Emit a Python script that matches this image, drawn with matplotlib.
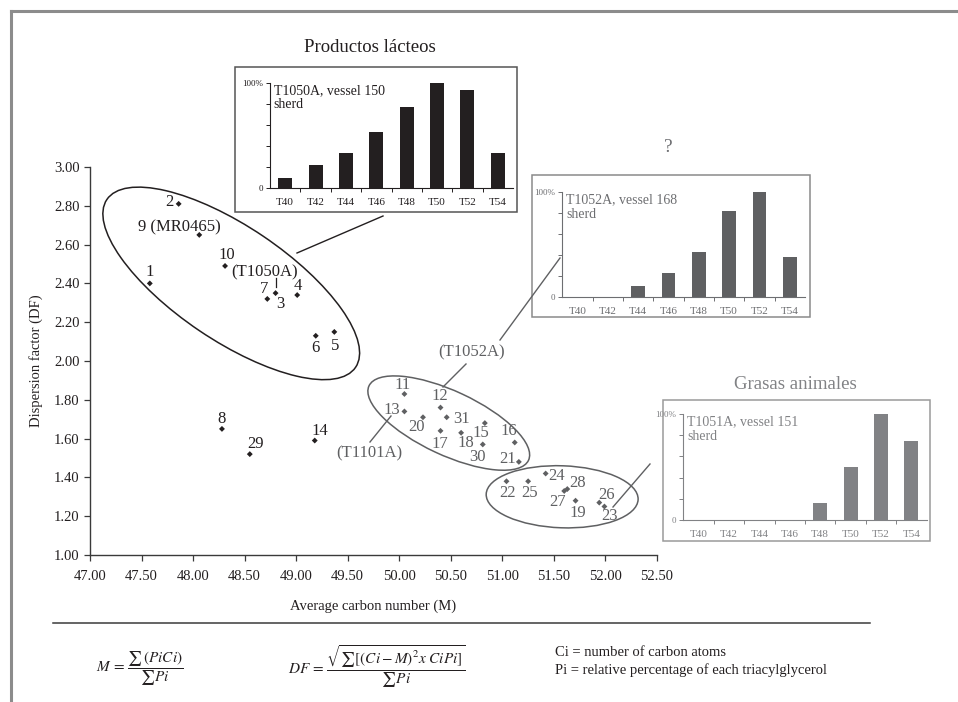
import matplotlib
matplotlib.use("Agg")
import matplotlib.pyplot as plt
from matplotlib.patches import Ellipse, Rectangle
from matplotlib.lines import Line2D
from matplotlib.transforms import ScaledTranslation

plt.rcParams['font.family'] = ['Liberation Serif', 'DejaVu Serif']
plt.rcParams['mathtext.fontset'] = 'stix'

# ---- sample values: average carbon number (M) and dispersion factor (DF)
sample_ids = ['1', '2', '9', '10', '3', '7', '4', '6', '5', '8', '29', '14',
              '11', '12', '13', '20', '31', '17', '18', '15', '16', '30', '21',
              '24', '22', '25', '28', '27', '19', '26', '23']
avg_carbon = [47.58, 47.86, 48.06, 48.31, 48.80, 48.72, 49.01, 49.19, 49.37, 48.28, 48.55, 49.18,
              50.05, 50.40, 50.05, 50.23, 50.46, 50.40, 50.60, 50.83, 51.12, 50.81, 51.16,
              51.42, 51.04, 51.25, 51.63, 51.60, 51.71, 51.94, 51.99]
dispersion = [2.40, 2.81, 2.65, 2.49, 2.35, 2.32, 2.34, 2.13, 2.15, 1.65, 1.52, 1.59,
              1.83, 1.76, 1.74, 1.71, 1.71, 1.64, 1.63, 1.68, 1.58, 1.57, 1.48,
              1.42, 1.38, 1.38, 1.34, 1.33, 1.28, 1.27, 1.25]
sample_text = ['1', '2', '9 (MR0465)', '10', '3', '7', '4', '6', '5', '8', '29', '14',
               '11', '12', '13', '20', '31', '17', '18', '15', '16', '30', '21',
               '24', '22', '25', '28', '27', '19', '26', '23']

# ---- triacylglycerol profiles (% of the largest peak)
tag_labels = ['T40', 'T42', 'T44', 'T46', 'T48', 'T50', 'T52', 'T54']
t1050a = [10, 22, 33, 53, 77, 100, 93, 33]
t1052a = [0, 0, 11, 23, 43, 82, 100, 38]
t1051a = [0, 0, 0, 0, 16, 50, 100, 75]

x_ticks = [47.00, 47.50, 48.00, 48.50, 49.00, 49.50, 50.00, 50.50, 51.00, 51.50, 52.00, 52.50]
y_ticks = [1.00, 1.20, 1.40, 1.60, 1.80, 2.00, 2.20, 2.40, 2.60, 2.80, 3.00]

BLACK = '#231f20'
GREY = '#5f6062'
LIGHT = '#818285'
FRAME = '#8c8c8c'

W, H = 958, 702
fig = plt.figure(figsize=(W / 100, H / 100), dpi=100)


def fx(x):
    return x / W


def fy(y):
    return 1 - y / H


def rect(l, t, r, b):
    return [l / W, 1 - b / H, (r - l) / W, (b - t) / H]


def fig_line(x0, y0, x1, y1, color, lw=1.0):
    fig.add_artist(Line2D([fx(x0), fx(x1)], [fy(y0), fy(y1)], color=color, lw=lw,
                          transform=fig.transFigure))


# page frame
fig_line(11, 11, 958, 11, FRAME, 2.2)
fig_line(11, 11, 11, 702, FRAME, 2.2)

# ---- main scatter
ax = fig.add_axes(rect(90, 167, 657, 555))
ax.set_xlim(47.0, 52.5)
ax.set_ylim(1.0, 3.0)
ax.set_xticks(x_ticks)
ax.set_yticks(y_ticks)
ax.set_xticklabels([f'{v:.2f}' for v in x_ticks])
ax.set_yticklabels([f'{v:.2f}' for v in y_ticks])
for s in ('top', 'right'):
    ax.spines[s].set_visible(False)
for s in ('left', 'bottom'):
    ax.spines[s].set_color('#3a3a3a')
    ax.spines[s].set_linewidth(1.0)
ax.tick_params(direction='out', length=4, width=0.9, color='#3a3a3a',
               labelsize=10.5, labelcolor=BLACK)
ax.tick_params(axis='x', pad=7)
ax.set_xlabel('Average carbon number (M)', fontsize=10.5, color=BLACK, labelpad=12)
ax.set_ylabel('Dispersion factor (DF)', fontsize=10.5, color=BLACK, labelpad=8)
ax.patch.set_alpha(0)

n_dark = 12
colors = [BLACK] * n_dark + [GREY] * (len(sample_ids) - n_dark)
ax.scatter(avg_carbon, dispersion, marker='D', s=9, c=colors, linewidths=0, zorder=3)

# label offsets in pixels (dx right, dy up)
label_offsets = [(0, 11), (-9, 2), (-20, 8), (2, 11), (5, -11), (-3, 10), (1, 9), (0, -12), (1, -14),
                 (0, 10), (6, 10), (5, 10),
                 (-2, 9), (-1, 12), (-13, 1), (-6, -10), (15, -2), (-1, -13), (5, -10), (-4, -10),
                 (-6, 11), (-5, -13), (-11, 3), (11, -2), (1, -12), (1, -12), (10, 6), (-7, -11),
                 (2, -12), (7, 8), (5, -9)]
for txt, xv, yv, (dx, dy), c in zip(sample_text, avg_carbon, dispersion, label_offsets, colors):
    ax.annotate(txt, (xv, yv), xytext=(dx, dy), textcoords='offset pixels',
                ha='center', va='center', fontsize=12, color=c, zorder=4)


def group_ellipse(cx, cy, w_px, h_px, angle, color):
    tr = fig.dpi_scale_trans + ScaledTranslation(cx, cy, ax.transData)
    e = Ellipse((0, 0), w_px / 100, h_px / 100, angle=angle, fill=False,
                edgecolor=color, lw=1.1, transform=tr, clip_on=False)
    ax.add_artist(e)


group_ellipse(48.37, 2.40, 300, 114, -34, BLACK)
group_ellipse(50.48, 1.68, 176, 64, -25, GREY)
group_ellipse(51.58, 1.30, 152, 62, -2, GREY)

# reference labels for the plotted sherds
fig.text(fx(265), fy(272), '(T1050A)', ha='center', va='center', fontsize=12, color=BLACK)
fig_line(276, 278, 276, 287, BLACK, 0.9)
fig.text(fx(472), fy(352), '(T1052A)', ha='center', va='center', fontsize=12, color=GREY)
fig.text(fx(369), fy(453), '(T1101A)', ha='center', va='center', fontsize=12, color=GREY)

# leader lines
fig_line(297, 253, 383, 216, BLACK, 1.0)
fig_line(443, 387, 466, 364, GREY, 1.0)
fig_line(500, 340, 560, 258, GREY, 1.0)
fig_line(370, 442, 391, 416, GREY, 1.0)
fig_line(613, 507, 650, 464, GREY, 1.0)


# ---- profile insets
def profile(box, area, values, bar_color, text_color, edge_color, caption):
    l, t, r, b = box
    fig.add_artist(Rectangle((fx(l), fy(b)), fx(r) - fx(l), fy(t) - fy(b), fill=False,
                             edgecolor=edge_color, lw=1.1, transform=fig.transFigure))
    a = fig.add_axes(rect(*area))
    pos = list(range(len(tag_labels)))
    a.bar(pos, values, width=0.46, color=bar_color, zorder=2)
    a.set_xlim(-0.5, len(tag_labels) - 0.5)
    a.set_ylim(0, 100)
    a.set_yticks([0, 20, 40, 60, 80, 100])
    a.set_yticklabels(['0', '', '', '', '', '100%'])
    a.set_xticks(pos)
    a.set_xticklabels(tag_labels)
    a.set_xticks([p + 0.5 for p in pos[:-1]], minor=True)
    a.tick_params(axis='x', which='major', length=0, pad=7, labelsize=8, labelcolor=text_color)
    a.tick_params(axis='x', which='minor', length=3, width=0.7, color=text_color)
    a.tick_params(axis='y', length=3, width=0.7, color=text_color, labelsize=6.5,
                  labelcolor=text_color, pad=2)
    for s in ('top', 'right'):
        a.spines[s].set_visible(False)
    for s in ('left', 'bottom'):
        a.spines[s].set_color(text_color)
        a.spines[s].set_linewidth(0.8)
    a.patch.set_alpha(0)
    a.text(0.015, 0.99, caption, transform=a.transAxes, ha='left', va='top',
           fontsize=10, color=text_color, linespacing=1.15)
    return a


profile((235, 67, 517, 212), (270, 82.7, 513, 188.3), t1050a, BLACK, BLACK, '#555555',
        'T1050A, vessel 150\nsherd')
profile((532, 175, 810, 317), (562.3, 192.3, 805, 297.3), t1052a, GREY, '#6d6e71', '#8a8a8a',
        'T1052A, vessel 168\nsherd')
profile((663, 400, 930, 541), (683.3, 414, 926.7, 520), t1051a, LIGHT, LIGHT, '#9a9a9a',
        'T1051A, vessel 151\nsherd')

fig.text(fx(370), fy(47), 'Productos lácteos', ha='center', va='center', fontsize=13.5, color=BLACK)
fig.text(fx(795), fy(384), 'Grasas animales', ha='center', va='center', fontsize=13.5, color=LIGHT)
fig.text(fx(668), fy(148), '?', ha='center', va='center', fontsize=14, color='#6d6e71')

# ---- definitions below the chart
fig_line(53, 623, 870, 623, '#3a3a3a', 1.1)
fig.text(fx(96), fy(669), r'$M\,=\,\dfrac{\sum\,(PiCi)}{\sum Pi}$', ha='left', va='center',
         fontsize=11, color=BLACK)
fig.text(fx(288), fy(667), r'$DF\,=\,\dfrac{\sqrt{\sum[(Ci-M)^2x\ CiPi]}}{\sum Pi}$',
         ha='left', va='center', fontsize=11, color=BLACK)
fig.text(fx(555), fy(652), 'Ci = number of carbon atoms', ha='left', va='center',
         fontsize=10.5, color=BLACK)
fig.text(fx(555), fy(670), 'Pi = relative percentage of each triacylglycerol', ha='left',
         va='center', fontsize=10.5, color=BLACK)

fig.savefig('out.png', dpi=100)
